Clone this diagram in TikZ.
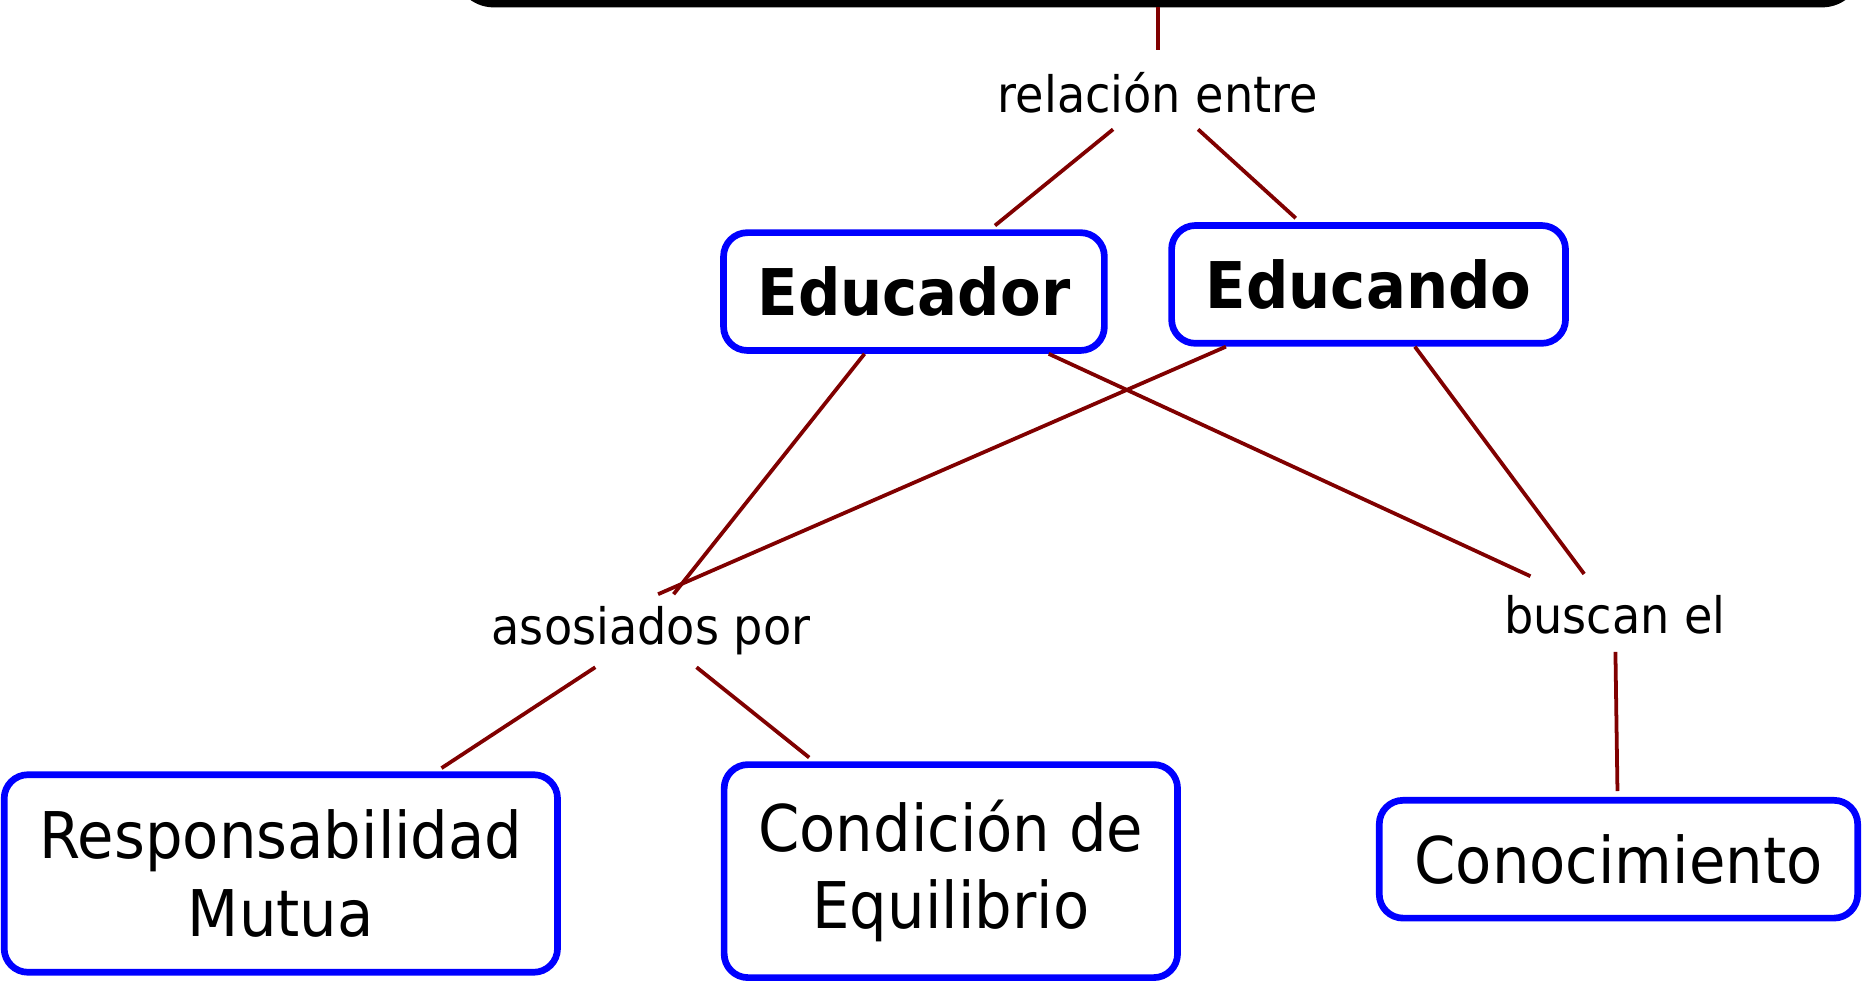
\documentclass[tikz,border=0pt]{standalone}
\usepackage{fontspec}
\setmainfont{DejaVu Sans}[FakeStretch=0.92]
\usepackage{tikz}
\usetikzlibrary{positioning}
\definecolor{rojoenlace}{RGB}{128,0,0}
\definecolor{azulborde}{RGB}{0,0,255}

\begin{document}
\begin{tikzpicture}[x=0.1mm,y=-0.1mm,
  concepto/.style={draw=azulborde,line width=1.6pt,rounded corners=2mm,fill=white,align=center,inner sep=0pt,minimum height=9.9mm,font=\fontsize{15.4}{18.5}\selectfont},
  frase/.style={inner sep=0pt,minimum height=6mm,font=\fontsize{12}{14}\selectfont},
  enlace/.style={draw=rojoenlace,line width=0.9pt,shorten >=0.5mm}]%
\useasboundingbox (0,0) rectangle (1568,825);%
\clip (0,0) rectangle (1568,825);%
% tema (cut off at the top)
\node[draw=black,line width=2.4pt,rounded corners=3mm,minimum width=117.6mm,minimum height=10mm] (tema) at (973,-48) {};%
% frases de enlace
\node[frase] (relacion) at (973,78) {relación entre};%
\node[frase] (asociados) at (547,530) {asosiados por};%
\node[frase] (buscan) at (1357,517) {buscan el};%
% conceptos
\node[concepto,minimum width=32mm] (educador) at (768,245) {\textbf{Educador}};%
\node[concepto,minimum width=33.1mm] (educando) at (1150,239) {\textbf{Educando}};%
\node[concepto,minimum width=46.5mm,minimum height=16.6mm] (responsabilidad) at (236,734) {Responsabilidad\\Mutua};%
\node[concepto,minimum width=38.1mm,minimum height=17.9mm] (condicion) at (799,732) {Condición de\\Equilibrio};%
\node[concepto,minimum width=40.2mm] (conocimiento) at (1360,722) {Conocimiento};%
% enlaces
\draw[enlace] (tema) -- (relacion);%
\draw[enlace] (relacion) -- (educador);%
\draw[enlace] (relacion) -- (educando);%
\draw[enlace,shorten >=0pt] (educador) -- ([xshift=1.9mm]asociados.north);%
\draw[enlace,shorten >=0pt] (educando) -- ([xshift=0.6mm]asociados.north);%
\draw[enlace] (educador) -- (buscan);%
\draw[enlace] (educando) -- (buscan);%
\draw[enlace] (asociados) -- (responsabilidad);%
\draw[enlace] (asociados) -- (condicion);%
\draw[enlace] (buscan) -- (conocimiento);%
\end{tikzpicture}
\end{document}
